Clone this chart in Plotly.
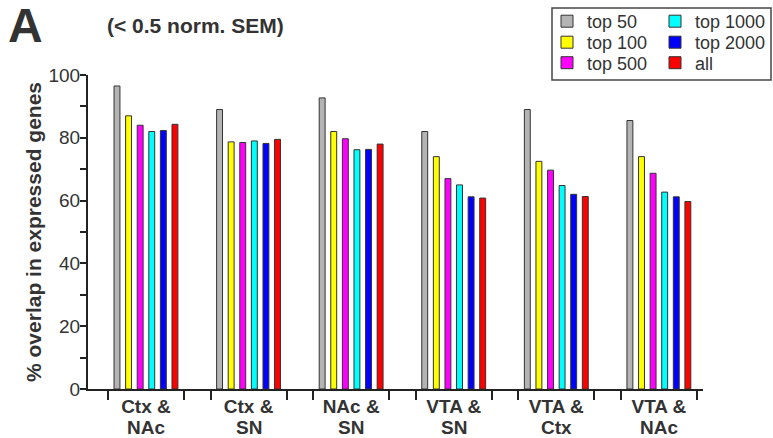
import plotly.graph_objects as go

cat_line1 = ["Ctx &", "Ctx &", "NAc &", "VTA &", "VTA &", "VTA &"]
cat_line2 = ["NAc", "SN", "SN", "SN", "Ctx", "NAc"]
series_names = ["top 50", "top 100", "top 500", "top 1000", "top 2000", "all"]
series_colors = ["#b4b4b4", "#ffff00", "#ff00ff", "#00ffff", "#0000ff", "#ff0000"]
top50 = [96.5, 89.0, 92.7, 82.0, 89.0, 85.5]
top100 = [87.0, 78.7, 82.0, 74.0, 72.5, 74.0]
top500 = [84.0, 78.5, 79.7, 67.0, 69.7, 68.7]
top1000 = [82.0, 79.0, 76.2, 65.0, 64.8, 62.7]
top2000 = [82.3, 78.2, 76.3, 61.2, 62.0, 61.2]
all_genes = [84.3, 79.5, 78.0, 60.8, 61.3, 59.7]
series_values = [top50, top100, top500, top1000, top2000, all_genes]
y_tick_vals = [0, 20, 40, 60, 80, 100]

W, H = 773, 438
ML, MR, MT, MB = 88, 70, 75, 49
PW = W - ML - MR
PH = H - MT - MB

def px_x(p):
    return (p - ML) / PW

def px_y(p):
    return (H - MB - p) / PH

FONT = "Arial, Liberation Sans, sans-serif"
TXT = "#333333"

# legend entry placement (pixel): column left, row centre
legend_cols = [547, 655]
legend_rows = [21.5, 42.5, 63]

x_idx = list(range(len(cat_line1)))
fig = go.Figure()
legend_layout = {}
for k, (name, col, vals) in enumerate(zip(series_names, series_colors, series_values)):
    lid = "legend" if k == 0 else f"legend{k + 1}"
    fig.add_trace(go.Bar(
        x=x_idx, y=vals, name=name, legend=lid, showlegend=True,
        marker=dict(color=col, line=dict(color="#333333", width=1)),
    ))
    c, r = divmod(k, 3)
    legend_layout[lid] = dict(
        x=px_x(legend_cols[c]), y=px_y(legend_rows[r]), xanchor="left", yanchor="middle",
        bgcolor="rgba(0,0,0,0)", borderwidth=0, visible=True,
        font=dict(size=18, family=FONT, color=TXT), itemwidth=30,
    )

edge_ticks = []
for i in x_idx:
    edge_ticks += [i - 0.37, i + 0.37]

annotations = [
    dict(text="<b>A</b>", xref="paper", yref="paper", x=px_x(6), y=px_y(26),
         xanchor="left", yanchor="middle", showarrow=False,
         font=dict(family=FONT, size=48, color=TXT)),
    dict(text="<b>(< 0.5 norm. SEM)</b>", xref="paper", yref="paper",
         x=px_x(105), y=px_y(25), xanchor="left", yanchor="middle", showarrow=False,
         font=dict(family=FONT, size=21, color=TXT)),
]
for i, t in zip(x_idx, cat_line2):
    annotations.append(dict(text=t, xref="x", yref="paper", x=i, y=px_y(427),
                            xanchor="center", yanchor="middle", showarrow=False,
                            font=dict(family=FONT, size=19, color=TXT, weight="bold")))

fig.update_layout(
    width=W, height=H,
    margin=dict(l=ML, r=MR, t=MT, b=MB, autoexpand=False),
    paper_bgcolor="white", plot_bgcolor="white", showlegend=True,
    barmode="group", bargap=0.322, bargroupgap=0.49,
    font=dict(family=FONT, color=TXT, size=18),
    xaxis=dict(
        range=[-0.565, 5.43], tickmode="array", tickvals=x_idx, ticktext=cat_line1,
        ticks="", showline=True, linecolor="#222222", linewidth=2, showgrid=False,
        zeroline=False, automargin=False, ticklabelstandoff=-1,
        tickfont=dict(family=FONT, size=19, color=TXT, weight="bold"),
        minor=dict(tickmode="array", tickvals=edge_ticks, ticks="outside", ticklen=9,
                   tickwidth=1.5, tickcolor="#222222", showgrid=False),
    ),
    yaxis=dict(
        range=[0, 100], tickmode="array", tickvals=y_tick_vals,
        ticks="outside", ticklen=6, tickwidth=1.5, tickcolor="#222222",
        showline=True, linecolor="#222222", linewidth=2, showgrid=False, zeroline=False,
        automargin=False, ticklabelstandoff=-4,
        tickfont=dict(family=FONT, size=19, color=TXT),
        minor=dict(dtick=10, ticks="outside", ticklen=6, tickwidth=1.5,
                   tickcolor="#222222", showgrid=False),
        title=dict(text="% overlap in expressed genes", standoff=1,
                   font=dict(family=FONT, size=21, color=TXT, weight="bold")),
    ),
    shapes=[dict(type="rect", xref="paper", yref="paper",
                 x0=px_x(552), x1=px_x(771), y0=px_y(80), y1=px_y(8),
                 line=dict(color="#444444", width=1.5), fillcolor="rgba(0,0,0,0)")],
    annotations=annotations,
    **legend_layout,
)

fig.write_html("out.html")
